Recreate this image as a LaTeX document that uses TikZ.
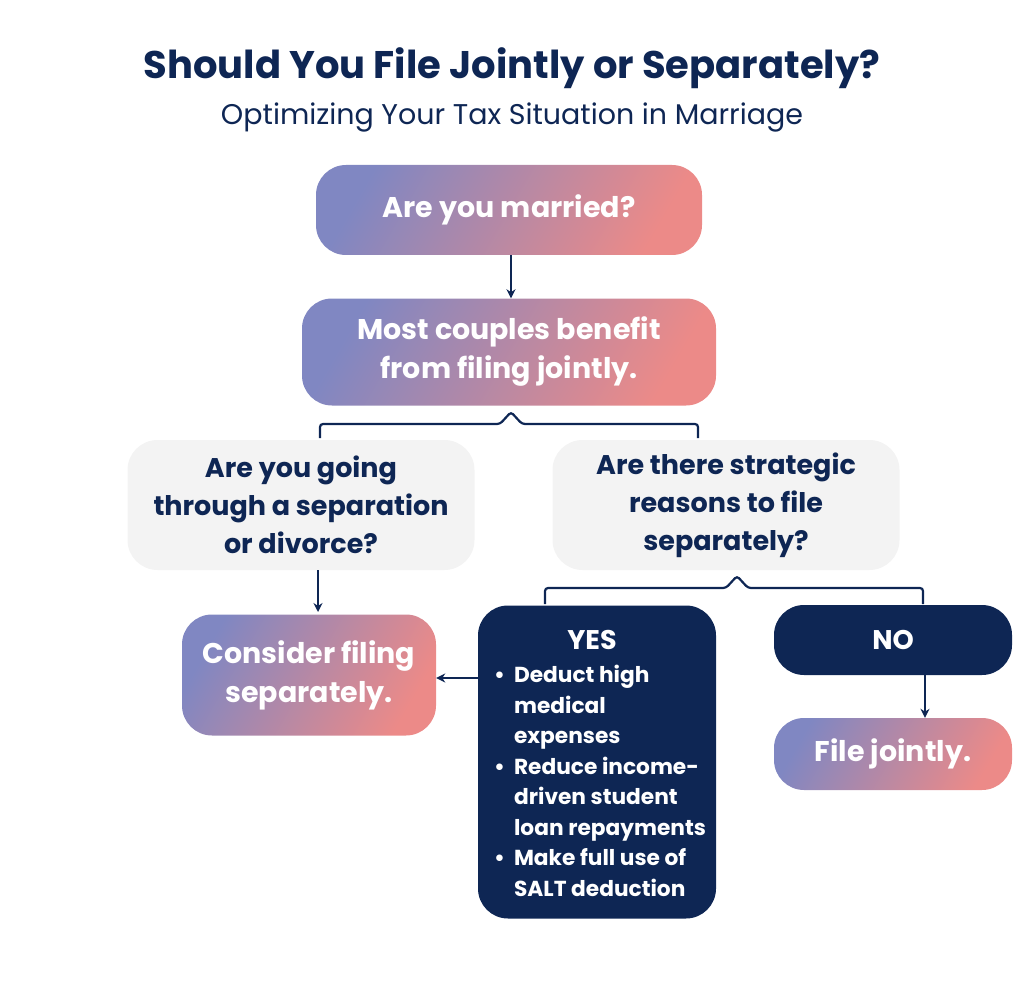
\documentclass[tikz,border=0pt]{standalone}
\usepackage{fontspec}
\setmainfont{Poppins}
\usetikzlibrary{arrows.meta}
\definecolor{navy}{HTML}{0E2654}
\definecolor{gA}{HTML}{8087C2}
\definecolor{gB}{HTML}{EC8A88}
\definecolor{gbox}{HTML}{F3F3F3}
\tikzset{
 grad/.style={rounded corners=30pt, left color=gA, right color=gB, shading angle=60, text=white, font=\fontsize{28.5}{39}\selectfont\bfseries, align=center, inner sep=0pt},
 graybox/.style={rounded corners=30pt, fill=gbox, text=navy, font=\fontsize{27}{38}\selectfont\bfseries, align=center, inner sep=0pt},
 navybox/.style={rounded corners=30pt, fill=navy, text=white, inner sep=0pt},
 conn/.style={draw=navy, line width=2pt, -{Stealth[length=9pt,width=9pt]}},
 brace/.style={draw=navy, line width=2.2pt, rounded corners=3pt}
}
\begin{document}
\begin{tikzpicture}[x=1pt,y=-1pt]
\useasboundingbox (0,0) rectangle (1024,981);
\node (title) at (512,68) {\fontsize{38.5}{44}\selectfont\bfseries\color{navy}Should You File Jointly or Separately?};
\node (sub) at (512,118) {\fontsize{28.5}{32}\selectfont\color{navy}Optimizing Your Tax Situation in Marriage};
\node[grad, minimum width=386pt, minimum height=90pt] (b1) at (509,210) {Are you married?};
\node[grad, minimum width=414pt, minimum height=107pt] (b2) at (509,352) {Most couples benefit\\from filing jointly.};
\node[graybox, minimum width=347pt, minimum height=130pt] (b3) at (301,505) {Are you going\\through a separation\\or divorce?};
\node[graybox, minimum width=347pt, minimum height=130pt] (b4) at (726,505) {Are there strategic\\reasons to file\\separately?};
\node[grad, minimum width=254pt, minimum height=121pt] (b5) at (309,675) {Consider filing\\separately.};
\node[navybox, minimum width=238pt, minimum height=313pt] (yes) at (597,762) {};
\node[text=white, font=\fontsize{27}{30}\selectfont\bfseries] (yest) at (592,640) {YES};
\node[text=white, anchor=north west, inner sep=0pt, font=\fontsize{21.7}{30.5}\selectfont\bfseries] (list) at (494,661) {%
\begin{tabular}{@{}l@{\hspace{9pt}}l@{}}
\textbullet & Deduct high\\ & medical\\ & expenses\\
\textbullet & Reduce income-\\ & driven student\\ & loan repayments\\
\textbullet & Make full use of\\ & SALT deduction
\end{tabular}};
\node[navybox, minimum width=238pt, minimum height=70pt, font=\fontsize{27}{30}\selectfont\bfseries, text=white] (no) at (893,640) {NO};
\node[grad, minimum width=238pt, minimum height=72pt] (b6) at (893,754) {File jointly.};
\draw[conn] (b1.south -| 511,0) -- (b2.north -| 511,0);
\draw[conn] (b3.south -| 318,0) -- (318,612);
\coordinate (yl) at (yes.west |- 0,678);
\draw[conn] (yl) -- (b5.east |- yl);
\draw[conn] (no.south -| 925,0) -- (b6.north -| 925,0);
\draw[brace] (320,438) -- (320,424) -- (500,424) -- (511,412) -- (522,424) -- (698,424) -- (698,438);
\draw[brace] (545,604) -- (545,588) -- (726,588) -- (737,576) -- (748,588) -- (923,588) -- (923,604);
\end{tikzpicture}
\end{document}
